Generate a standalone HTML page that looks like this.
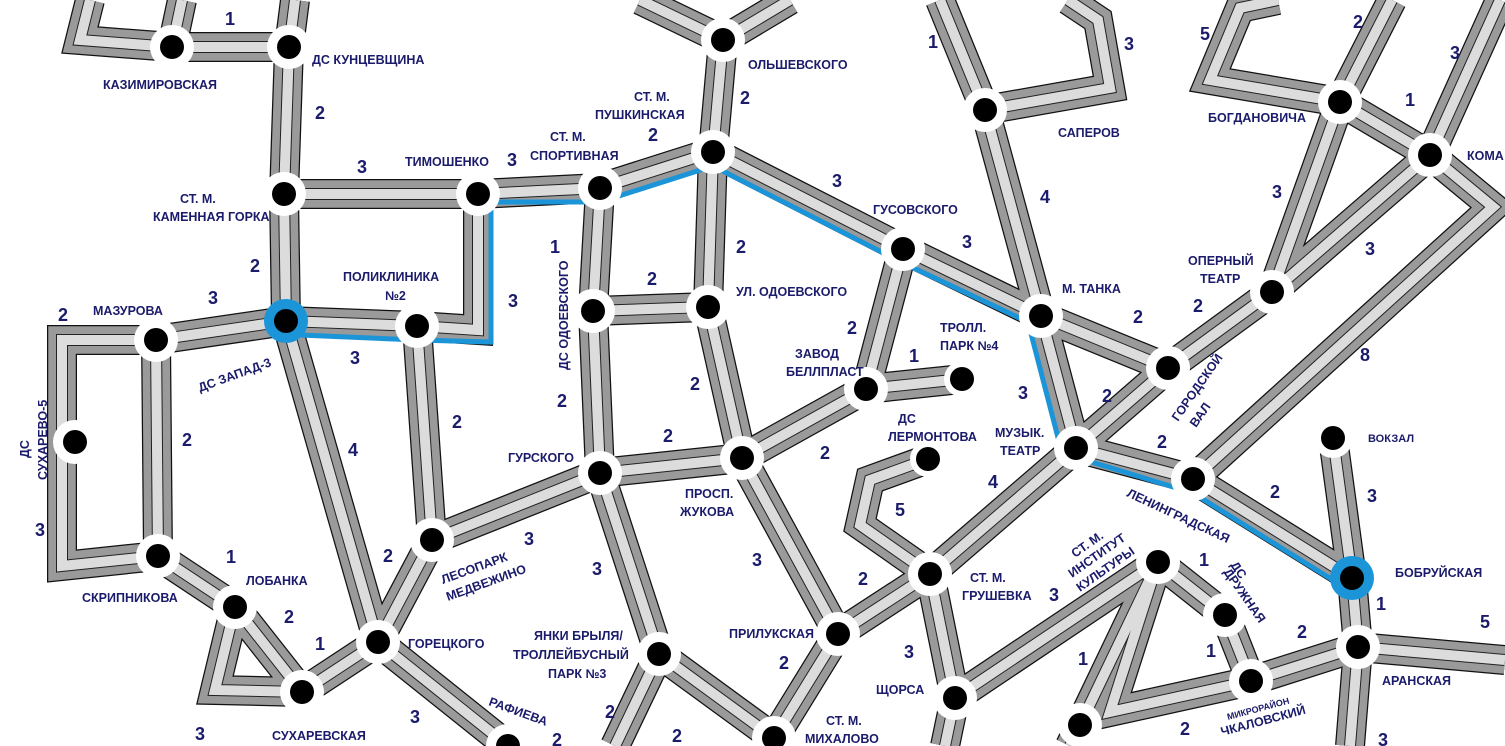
<!DOCTYPE html>
<html><head><meta charset="utf-8"><style>
html,body{margin:0;padding:0;background:#fff;}
svg{display:block;}
text{font-family:"Liberation Sans",sans-serif;font-weight:bold;fill:#1b1b6b;}
.n{font-size:12.5px;}
.d{font-size:18px;}
</style></head><body>
<svg width="1505" height="746" viewBox="0 0 1505 746" xmlns="http://www.w3.org/2000/svg">
<defs>
<g id="r" fill="none" stroke-linejoin="miter" stroke-linecap="butt">
<path d="M90,0 L80,40 L172,47 L289,47 M182,0 L172,47 M295,0 L289,47 L284,194 L478,194 L600,188 L713,152 L723,40 M640,0 L723,40 L790,0"/>
<path d="M284,194 L286,321 L417,326 L478,330 L478,194 M286,321 L156,340 L62,340 L62,566 L158,556 M156,340 L158,556 L235,607 L302,692 M235,607 L215,690 L302,692 L378,642 L432,540 L417,326 M286,321 L378,642 L508,746"/>
<path d="M432,540 L600,473 L742,458 L866,389 L962,379 M600,473 L593,311 L600,188 M593,311 L708,307 L713,152 M708,307 L742,458 L838,634 L930,574 L1076,448 M600,473 L659,654 L774,738 M838,634 L774,738 M659,654 L615,746"/>
<path d="M713,152 L903,249 L1041,316 L1076,448 L1193,479 L1352,578 L1358,647 L1350,746 M1358,647 L1505,660 M1352,578 L1333,438 M1041,316 L985,110 L940,0 M985,110 L1110,88 L1098,20 L1068,0 M903,249 L866,389 M1041,316 L1168,368 L1272,292 L1340,102 L1392,0 M1076,448 L1168,368 M1340,102 L1430,155 L1500,0 M1340,102 L1210,80 L1240,8 L1278,0 M1272,292 L1430,155 M1193,479 L1493,207 L1430,155"/>
<path d="M928,459 L870,480 L860,525 L930,574 L955,698 L1158,562 L1225,615 L1251,681 L1358,647 M1158,562 L1080,725 M1158,562 L1110,712 L1251,681 M955,698 L945,746 M1080,725 L1070,746"/>
</g>
</defs>
<use href="#r" stroke="#111" stroke-width="30"/>
<use href="#r" stroke="#9a9a9a" stroke-width="27.5"/>
<use href="#r" stroke="#222" stroke-width="12"/>
<use href="#r" stroke="#dcdcdc" stroke-width="10"/>
<polyline fill="none" stroke="#1b95d8" stroke-width="5" points="300,335 417,340 491,342 491,202 600,202 713,166 903,263 1028,322 1062,453 1193,493 1352,592"/>
<g fill="#fff">
<circle cx="172" cy="47" r="22"/><circle cx="289" cy="47" r="22"/><circle cx="284" cy="194" r="22"/>
<circle cx="156" cy="340" r="22"/><circle cx="478" cy="194" r="22"/><circle cx="417" cy="326" r="22"/>
<circle cx="600" cy="188" r="22"/><circle cx="713" cy="152" r="22"/><circle cx="723" cy="40" r="22"/>
<circle cx="593" cy="311" r="22"/><circle cx="708" cy="307" r="22"/><circle cx="903" cy="249" r="22"/>
<circle cx="985" cy="110" r="22"/><circle cx="1041" cy="316" r="22"/><circle cx="866" cy="389" r="22"/>
<circle cx="962" cy="379" r="18"/><circle cx="600" cy="473" r="22"/><circle cx="742" cy="458" r="22"/>
<circle cx="432" cy="540" r="22"/><circle cx="75" cy="442" r="22"/><circle cx="158" cy="556" r="22"/>
<circle cx="235" cy="607" r="22"/><circle cx="378" cy="642" r="22"/><circle cx="302" cy="692" r="22"/>
<circle cx="508" cy="746" r="22"/><circle cx="659" cy="654" r="22"/><circle cx="838" cy="634" r="22"/>
<circle cx="774" cy="738" r="22"/><circle cx="1076" cy="448" r="22"/><circle cx="928" cy="459" r="18"/>
<circle cx="930" cy="574" r="22"/><circle cx="955" cy="698" r="22"/><circle cx="1168" cy="368" r="22"/>
<circle cx="1272" cy="292" r="22"/><circle cx="1340" cy="102" r="22"/><circle cx="1430" cy="155" r="22"/>
<circle cx="1193" cy="479" r="22"/><circle cx="1333" cy="438" r="20"/><circle cx="1358" cy="647" r="22"/>
<circle cx="1158" cy="562" r="22"/><circle cx="1225" cy="615" r="22"/><circle cx="1251" cy="681" r="22"/>
<circle cx="1080" cy="725" r="22"/>
</g>
<circle cx="286" cy="321" r="22" fill="#1b95d8"/><circle cx="1352" cy="578" r="22" fill="#1b95d8"/>
<g fill="#000">
<circle cx="172" cy="47" r="12"/><circle cx="289" cy="47" r="12"/><circle cx="284" cy="194" r="12"/>
<circle cx="156" cy="340" r="12"/><circle cx="478" cy="194" r="12"/><circle cx="417" cy="326" r="12"/>
<circle cx="600" cy="188" r="12"/><circle cx="713" cy="152" r="12"/><circle cx="723" cy="40" r="12"/>
<circle cx="593" cy="311" r="12"/><circle cx="708" cy="307" r="12"/><circle cx="903" cy="249" r="12"/>
<circle cx="985" cy="110" r="12"/><circle cx="1041" cy="316" r="12"/><circle cx="866" cy="389" r="12"/>
<circle cx="962" cy="379" r="12"/><circle cx="600" cy="473" r="12"/><circle cx="742" cy="458" r="12"/>
<circle cx="432" cy="540" r="12"/><circle cx="75" cy="442" r="12"/><circle cx="158" cy="556" r="12"/>
<circle cx="235" cy="607" r="12"/><circle cx="378" cy="642" r="12"/><circle cx="302" cy="692" r="12"/>
<circle cx="508" cy="746" r="12"/><circle cx="659" cy="654" r="12"/><circle cx="838" cy="634" r="12"/>
<circle cx="774" cy="738" r="12"/><circle cx="1076" cy="448" r="12"/><circle cx="928" cy="459" r="12"/>
<circle cx="930" cy="574" r="12"/><circle cx="955" cy="698" r="12"/><circle cx="1168" cy="368" r="12"/>
<circle cx="1272" cy="292" r="12"/><circle cx="1340" cy="102" r="12"/><circle cx="1430" cy="155" r="12"/>
<circle cx="1193" cy="479" r="12"/><circle cx="1333" cy="438" r="12"/><circle cx="1358" cy="647" r="12"/>
<circle cx="1158" cy="562" r="12"/><circle cx="1225" cy="615" r="12"/><circle cx="1251" cy="681" r="12"/>
<circle cx="1080" cy="725" r="12"/><circle cx="286" cy="321" r="12"/><circle cx="1352" cy="578" r="12"/>
</g>
<g class="n">
<text x="103" y="89">КАЗИМИРОВСКАЯ</text>
<text x="312" y="64">ДС КУНЦЕВЩИНА</text>
<text x="180" y="203">СТ. М.</text><text x="153" y="221">КАМЕННАЯ ГОРКА</text>
<text x="405" y="166">ТИМОШЕНКО</text>
<text x="550" y="141">СТ. М.</text><text x="530" y="160">СПОРТИВНАЯ</text>
<text x="634" y="101">СТ. М.</text><text x="595" y="119">ПУШКИНСКАЯ</text>
<text x="748" y="69">ОЛЬШЕВСКОГО</text>
<text x="343" y="281">ПОЛИКЛИНИКА</text><text x="385" y="300">№2</text>
<text x="93" y="315">МАЗУРОВА</text>
<text x="200" y="392" transform="rotate(-20 200 392)">ДС ЗАПАД-3</text>
<text x="736" y="296">УЛ. ОДОЕВСКОГО</text>
<text x="873" y="214">ГУСОВСКОГО</text>
<text x="1058" y="137">САПЕРОВ</text>
<text x="1062" y="293">М. ТАНКА</text>
<text x="940" y="332">ТРОЛЛ.</text><text x="940" y="350">ПАРК №4</text>
<text x="795" y="358">ЗАВОД</text><text x="786" y="376">БЕЛЛПЛАСТ</text>
<text x="508" y="462">ГУРСКОГО</text>
<text x="685" y="498">ПРОСП.</text><text x="680" y="516">ЖУКОВА</text>
<text x="898" y="423">ДС</text><text x="888" y="441">ЛЕРМОНТОВА</text>
<text x="995" y="437">МУЗЫК.</text><text x="1000" y="455">ТЕАТР</text>
<text x="1188" y="265">ОПЕРНЫЙ</text><text x="1200" y="283">ТЕАТР</text>
<text x="1208" y="122">БОГДАНОВИЧА</text>
<text x="1467" y="160">КОМА</text>
<text x="1368" y="442" style="font-size:11px">ВОКЗАЛ</text>
<text x="1395" y="577">БОБРУЙСКАЯ</text>
<text x="1382" y="685">АРАНСКАЯ</text>
<text x="970" y="582">СТ. М.</text><text x="962" y="600">ГРУШЕВКА</text>
<text x="876" y="694">ЩОРСА</text>
<text x="729" y="638">ПРИЛУКСКАЯ</text>
<text x="826" y="725">СТ. М.</text><text x="805" y="743">МИХАЛОВО</text>
<text x="534" y="640">ЯНКИ БРЫЛЯ/</text><text x="513" y="659">ТРОЛЛЕЙБУСНЫЙ</text><text x="548" y="678">ПАРК №3</text>
<text x="488" y="705" transform="rotate(20 488 705)">РАФИЕВА</text>
<text x="408" y="648">ГОРЕЦКОГО</text>
<text x="272" y="740">СУХАРЕВСКАЯ</text>
<text x="246" y="585">ЛОБАНКА</text>
<text x="82" y="602">СКРИПНИКОВА</text>
<text x="443" y="584" transform="rotate(-20 443 584)">ЛЕСОПАРК</text><text x="448" y="601" transform="rotate(-20 448 601)">МЕДВЕЖИНО</text>
<text x="29" y="458" transform="rotate(-90 29 458)">ДС</text><text x="47" y="480" transform="rotate(-90 47 480)">СУХАРЕВО-5</text>
<text x="568" y="370" transform="rotate(-90 568 370)">ДС ОДОЕВСКОГО</text>
<text x="1178" y="422" transform="rotate(-55 1178 422)">ГОРОДСКОЙ</text><text x="1196" y="428" transform="rotate(-55 1196 428)">ВАЛ</text>
<text x="1126" y="496" transform="rotate(25 1126 496)">ЛЕНИНГРАДСКАЯ</text>
<text x="1075" y="558" transform="rotate(-35 1075 558)">СТ. М.</text><text x="1072" y="578" transform="rotate(-35 1072 578)">ИНСТИТУТ</text><text x="1080" y="592" transform="rotate(-35 1080 592)">КУЛЬТУРЫ</text>
<text x="1230" y="565" transform="rotate(55 1230 565)">ДС</text><text x="1223" y="572" transform="rotate(55 1223 572)">ДРУЖНАЯ</text>
<text x="1228" y="720" transform="rotate(-15 1228 720)" style="font-size:9px">МИКРОРАЙОН</text>
<text x="1222" y="736" transform="rotate(-15 1222 736)">ЧКАЛОВСКИЙ</text>
</g>
<g class="d">
<text x="225" y="25">1</text><text x="315" y="119">2</text><text x="357" y="173">3</text><text x="507" y="166">3</text>
<text x="648" y="141">2</text><text x="740" y="104">2</text><text x="250" y="272">2</text><text x="208" y="304">3</text>
<text x="58" y="321">2</text><text x="350" y="364">3</text><text x="508" y="307">3</text><text x="550" y="253">1</text>
<text x="647" y="285">2</text><text x="736" y="253">2</text><text x="832" y="187">3</text><text x="962" y="248">3</text>
<text x="928" y="48">1</text><text x="1124" y="50">3</text><text x="1040" y="203">4</text><text x="1133" y="323">2</text>
<text x="1193" y="312">2</text><text x="847" y="334">2</text><text x="909" y="362">1</text><text x="690" y="390">2</text>
<text x="557" y="407">2</text><text x="663" y="442">2</text><text x="820" y="459">2</text><text x="182" y="446">2</text>
<text x="452" y="428">2</text><text x="348" y="456">4</text><text x="35" y="536">3</text><text x="226" y="563">1</text>
<text x="284" y="623">2</text><text x="383" y="562">2</text><text x="315" y="650">1</text><text x="524" y="545">3</text>
<text x="592" y="575">3</text><text x="410" y="723">3</text><text x="195" y="740">3</text><text x="752" y="566">3</text>
<text x="605" y="718">2</text><text x="672" y="742">2</text><text x="779" y="669">2</text><text x="858" y="585">2</text>
<text x="895" y="516">5</text><text x="988" y="488">4</text><text x="1018" y="399">3</text><text x="1102" y="402">2</text>
<text x="1157" y="448">2</text><text x="904" y="658">3</text><text x="1049" y="601">3</text><text x="1078" y="665">1</text>
<text x="1180" y="735">2</text><text x="1199" y="566">1</text><text x="1206" y="657">1</text><text x="1297" y="638">2</text>
<text x="1270" y="498">2</text><text x="1367" y="502">3</text><text x="1376" y="610">1</text><text x="1480" y="628">5</text>
<text x="1360" y="361">8</text><text x="1365" y="255">3</text><text x="1272" y="198">3</text><text x="1405" y="106">1</text>
<text x="1353" y="28">2</text><text x="1450" y="59">3</text><text x="1200" y="40">5</text><text x="1378" y="746">3</text>
<text x="552" y="746">2</text>
</g>
</svg>
</body></html>
